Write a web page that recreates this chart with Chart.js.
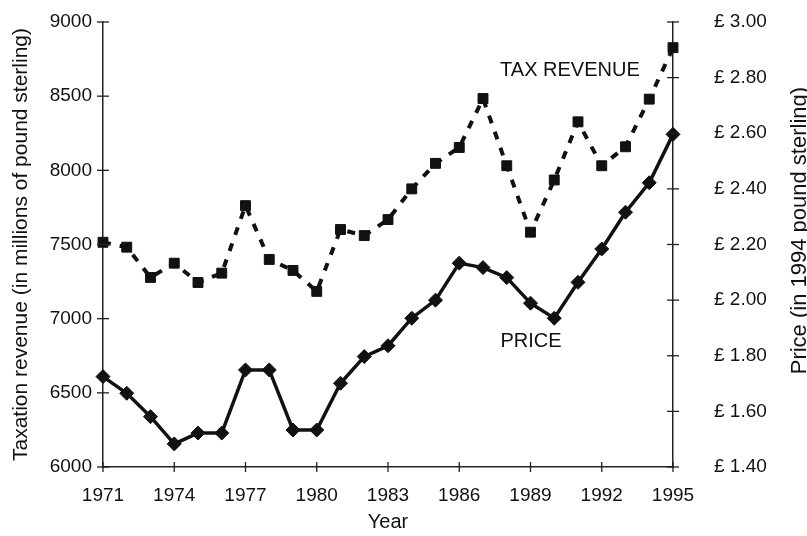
<!DOCTYPE html>
<html>
<head>
<meta charset="utf-8">
<script src="https://cdn.jsdelivr.net/npm/chart.js@4/dist/chart.umd.min.js"></script>
<style>
  html, body { margin: 0; padding: 0; background: #fff; }
  canvas { display: block; }
</style>
</head>
<body>
<canvas id="taxChart" width="807" height="536"></canvas>
<script>
"use strict";

// years on the x axis
const years = [1971, 1972, 1973, 1974, 1975, 1976, 1977, 1978, 1979, 1980, 1981, 1982, 1983,
               1984, 1985, 1986, 1987, 1988, 1989, 1990, 1991, 1992, 1993, 1994, 1995];

// taxation revenue, millions of pound sterling (left axis)
const taxRevenue = [7515, 7482, 7278, 7374, 7244, 7307, 7762, 7399, 7325, 7184, 7601, 7560, 7668,
                    7875, 8047, 8154, 8484, 8031, 7583, 7935, 8327, 8031, 8159, 8480, 8827];

// price in 1994 pound sterling (right axis)
const price = [1.725, 1.665, 1.581, 1.483, 1.522, 1.522, 1.749, 1.749, 1.533, 1.533, 1.701, 1.797, 1.836,
               1.935, 2.000, 2.133, 2.117, 2.081, 1.989, 1.935, 2.064, 2.184, 2.316, 2.422, 2.596];

const FONT = '"Liberation Sans", Arial, Helvetica, sans-serif';
const INK = "#111";

// ticks that cross the axis lines, the two inline labels and the right title
const crossTicks = {
    id: "crossTicks",
    afterDraw(chart) {
        const ctx = chart.ctx;
        const sx = chart.scales.x;
        const yTax = chart.scales.yTax;
        const yPrice = chart.scales.yPrice;
        ctx.save();
        ctx.strokeStyle = "#222";
        ctx.lineWidth = 1.3;
        yTax.ticks.forEach((t, i) => {
            const y = yTax.getPixelForTick(i);
            ctx.beginPath();
            ctx.moveTo(yTax.right - 6, y);
            ctx.lineTo(yTax.right + 6, y);
            ctx.stroke();
        });
        yPrice.ticks.forEach((t, i) => {
            const y = yPrice.getPixelForTick(i);
            ctx.beginPath();
            ctx.moveTo(yPrice.left - 6, y);
            ctx.lineTo(yPrice.left + 6, y);
            ctx.stroke();
        });
        sx.ticks.forEach((t, i) => {
            const x = sx.getPixelForTick(i);
            ctx.beginPath();
            ctx.moveTo(x, sx.top - 5);
            ctx.lineTo(x, sx.top + 5);
            ctx.stroke();
        });

        ctx.fillStyle = INK;
        ctx.font = "20px " + FONT;
        ctx.textAlign = "center";
        ctx.textBaseline = "middle";
        ctx.fillText("TAX REVENUE", sx.getPixelForValue(1990.66), yTax.getPixelForValue(8670));
        ctx.fillText("PRICE", sx.getPixelForValue(1989.02), yPrice.getPixelForValue(1.85));

        // right axis title sits a bit above the middle in the original
        ctx.font = "22px " + FONT;
        ctx.textBaseline = "alphabetic";
        ctx.translate(806, yPrice.getPixelForValue(2.25));
        ctx.rotate(-Math.PI / 2);
        ctx.fillText("Price (in 1994 pound sterling)", 0, 0);
        ctx.restore();
    }
};

const ctx = document.getElementById("taxChart").getContext("2d");
window.taxChart = new Chart(ctx, {
    type: "line",
    data: {
        datasets: [
            {
                label: "Tax revenue",
                data: years.map((yr, i) => ({ x: yr, y: taxRevenue[i] })),
                yAxisID: "yTax",
                borderColor: INK,
                backgroundColor: INK,
                borderWidth: 4,
                borderDash: [8, 9],
                pointStyle: "rect",
                pointRadius: 7,
                pointBorderWidth: 1,
                tension: 0,
                clip: false,
            },
            {
                label: "Price",
                data: years.map((yr, i) => ({ x: yr, y: price[i] })),
                yAxisID: "yPrice",
                borderColor: INK,
                backgroundColor: INK,
                borderWidth: 3.5,
                pointStyle: "rectRot",
                pointRadius: 7,
                pointBorderWidth: 1,
                tension: 0,
                clip: false,
            },
        ],
    },
    options: {
        responsive: false,
        animation: false,
        layout: { padding: { top: 22, left: 0, right: 0, bottom: 0 } },
        plugins: {
            legend: { display: false },
            tooltip: { enabled: false },
        },
        scales: {
            x: {
                type: "linear",
                min: 1971,
                max: 1995,
                grid: { display: false, drawTicks: false },
                border: { display: true, color: "#222", width: 1.5 },
                ticks: {
                    stepSize: 3,
                    padding: 17,
                    color: INK,
                    font: { family: FONT, size: 19 },
                    callback: (v) => String(v),
                },
                title: {
                    display: true,
                    text: "Year",
                    color: INK,
                    font: { family: FONT, size: 20 },
                    padding: { top: 0, bottom: 2 },
                },
                afterFit: (scale) => { scale.height = 69; },
            },
            yTax: {
                position: "left",
                min: 6000,
                max: 9000,
                grid: { display: false, drawTicks: false },
                border: { display: true, color: "#222", width: 1.5 },
                ticks: {
                    stepSize: 500,
                    padding: 11,
                    color: INK,
                    font: { family: FONT, size: 19 },
                    callback: (v) => String(v),
                },
                title: {
                    display: true,
                    text: "Taxation revenue (in millions of pound sterling)",
                    color: INK,
                    font: { family: FONT, size: 21 },
                    padding: { top: 9, bottom: 0 },
                },
                afterFit: (scale) => {
                    scale.width = 103;
                    scale.paddingTop = 11;
                    scale.paddingBottom = 11;
                },
            },
            yPrice: {
                position: "right",
                min: 1.4,
                max: 3.0,
                grid: { display: false, drawTicks: false },
                border: { display: true, color: "#222", width: 1.5 },
                ticks: {
                    stepSize: 0.2,
                    padding: 41,
                    color: INK,
                    font: { family: FONT, size: 19 },
                    callback: (v) => "£ " + Number(v).toFixed(2),
                },
                title: { display: false },
                afterFit: (scale) => {
                    scale.width = 134;
                    scale.paddingTop = 11;
                    scale.paddingBottom = 11;
                },
            },
        },
    },
    plugins: [crossTicks],
});
</script>
</body>
</html>
